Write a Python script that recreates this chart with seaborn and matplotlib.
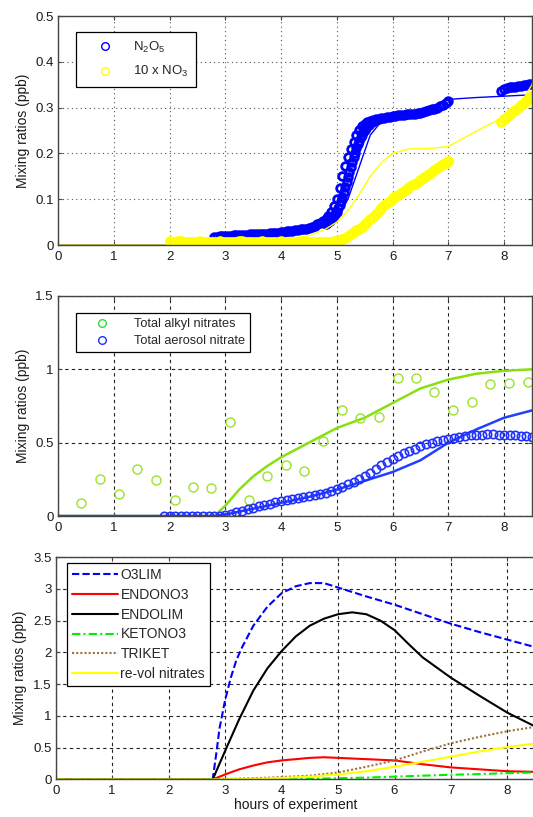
import numpy as np
import matplotlib
matplotlib.use("Agg")
import matplotlib.pyplot as plt
import seaborn as sns
from matplotlib.lines import Line2D
from matplotlib.ticker import FuncFormatter

sns.set_theme(style="white")
plt.rcParams['font.family'] = ['Liberation Sans', 'DejaVu Sans']
plt.rcParams['mathtext.default'] = 'regular'

# ---------------- Panel 1: N2O5 and 10 x NO3 ----------------
n2o5_t = list(np.round(np.arange(2.80, 7.001, 0.05), 2)) + list(np.round(np.arange(7.95, 8.501, 0.05), 2))
n2o5_v = [0.018, 0.018, 0.019, 0.019, 0.020, 0.020, 0.020, 0.021, 0.021, 0.021, 0.022, 0.022, 0.022, 0.023, 0.023,
          0.023, 0.024, 0.024, 0.025, 0.025, 0.026, 0.026, 0.027, 0.027, 0.028, 0.029, 0.030, 0.030, 0.031, 0.032,
          0.033, 0.034, 0.035, 0.036, 0.038,
          0.040, 0.042, 0.045, 0.048, 0.052, 0.057, 0.063, 0.072, 0.085, 0.100,
          0.125, 0.150, 0.172, 0.192, 0.210, 0.225, 0.240, 0.252, 0.260, 0.265,
          0.268, 0.271, 0.273, 0.275, 0.276, 0.277, 0.278, 0.279, 0.280, 0.281,
          0.282, 0.283, 0.284, 0.284, 0.285, 0.285, 0.286, 0.287, 0.288, 0.289,
          0.290, 0.292, 0.294, 0.296, 0.298, 0.300, 0.303, 0.306, 0.310, 0.314,
          0.336, 0.340, 0.342, 0.344, 0.345, 0.346, 0.347, 0.348, 0.349, 0.350, 0.351, 0.352]

# second (lagging) N2O5 trace during the fast rise
n2o5_b_t = list(np.round(np.arange(4.80, 5.701, 0.025), 3))
n2o5_b_v = [0.045, 0.047, 0.050, 0.053, 0.056, 0.060, 0.064, 0.068, 0.073, 0.080,
            0.088, 0.096, 0.105, 0.115, 0.126, 0.137, 0.148, 0.159, 0.170, 0.181,
            0.192, 0.202, 0.211, 0.220, 0.228, 0.235, 0.241, 0.247, 0.252, 0.256,
            0.260, 0.263, 0.266, 0.268, 0.270, 0.271, 0.272]

no3_t = list(np.round(np.arange(2.00, 7.001, 0.05), 2)) + list(np.round(np.arange(7.95, 8.501, 0.05), 2))
no3_v = [0.008, 0.007, 0.007, 0.008, 0.008, 0.007, 0.007, 0.006, 0.006, 0.007,
         0.007, 0.008, 0.007, 0.007, 0.006, 0.006, 0.007, 0.007, 0.008, 0.007,
         0.007, 0.006, 0.006, 0.007, 0.007, 0.008, 0.008, 0.007, 0.007, 0.006,
         0.006, 0.007, 0.007, 0.008, 0.007, 0.007, 0.006, 0.006, 0.007, 0.007,
         0.008, 0.007, 0.007, 0.006, 0.006, 0.007, 0.007, 0.008, 0.007, 0.007,
         0.006, 0.006, 0.007, 0.007, 0.007, 0.006, 0.006, 0.007, 0.007, 0.008, 0.008,
         0.010, 0.013, 0.016, 0.020, 0.024, 0.028, 0.032, 0.036, 0.040, 0.045,
         0.050, 0.056, 0.062, 0.068, 0.075, 0.081, 0.087, 0.092, 0.097, 0.102,
         0.106, 0.110, 0.114, 0.118, 0.122, 0.126, 0.130, 0.134, 0.138, 0.142,
         0.146, 0.150, 0.155, 0.160, 0.164, 0.168, 0.172, 0.176, 0.180, 0.184,
         0.268, 0.275, 0.280, 0.285, 0.290, 0.295, 0.300, 0.305, 0.310, 0.315, 0.320, 0.325]

n2o5_model_t = [0, 2.0, 2.5, 3.0, 3.5, 4.0, 4.5, 4.8, 5.0, 5.2, 5.4, 5.6, 5.8, 6.0, 6.5, 7.0, 7.5, 8.0, 8.5]
n2o5_model_v = [0, 0, 0.008, 0.015, 0.020, 0.025, 0.032, 0.040, 0.060, 0.100, 0.170, 0.240, 0.270, 0.280, 0.290, 0.318, 0.322, 0.325, 0.328]

no3_model_t = [0, 2.0, 3.0, 4.0, 4.5, 4.8, 5.0, 5.2, 5.4, 5.6, 5.8, 6.0, 6.3, 6.6, 7.0, 7.3, 7.6, 8.0, 8.3, 8.5]
no3_model_v = [0, 0, 0.005, 0.010, 0.020, 0.035, 0.050, 0.075, 0.110, 0.150, 0.180, 0.200, 0.210, 0.210, 0.215, 0.235, 0.255, 0.280, 0.310, 0.350]

# ---------------- Panel 2: alkyl & aerosol nitrates ----------------
alkyl_t = [0.42, 0.75, 1.09, 1.42, 1.75, 2.09, 2.42, 2.75, 3.09, 3.42, 3.75, 4.09, 4.42,
           4.75, 5.09, 5.42, 5.75, 6.09, 6.42, 6.75, 7.09, 7.42, 7.75, 8.09, 8.42]
alkyl_v = [0.087, 0.25, 0.148, 0.32, 0.247, 0.11, 0.20, 0.194, 0.64, 0.11, 0.27, 0.35, 0.306,
           0.514, 0.726, 0.67, 0.673, 0.943, 0.943, 0.845, 0.726, 0.78, 0.897, 0.904, 0.913]

aer_t = list(np.round(np.arange(1.9, 8.501, 0.1), 2))
aer_v = [0, 0, 0, 0, 0, 0, 0, 0, 0, 0, 0,
         0.005, 0.015, 0.025, 0.035, 0.045, 0.055, 0.065, 0.075, 0.085, 0.095,
         0.100, 0.110, 0.115, 0.120, 0.130, 0.135, 0.145, 0.150, 0.160, 0.170,
         0.185, 0.200, 0.215, 0.235, 0.255, 0.275, 0.295, 0.320, 0.345, 0.370,
         0.390, 0.410, 0.430, 0.445, 0.460, 0.475, 0.490, 0.500, 0.510, 0.520,
         0.525, 0.535, 0.540, 0.545, 0.550, 0.555, 0.555, 0.560, 0.560, 0.555,
         0.555, 0.550, 0.550, 0.545, 0.545, 0.540]

alkyl_model_t = [0, 2.8, 3.0, 3.25, 3.5, 3.75, 4.0, 4.5, 5.0, 5.5, 6.0, 6.5, 7.0, 7.5, 8.0, 8.5]
alkyl_model_v = [0, 0, 0.07, 0.18, 0.27, 0.34, 0.40, 0.50, 0.60, 0.67, 0.77, 0.87, 0.93, 0.97, 0.99, 1.00]

aer_model_t = [0, 2.8, 3.0, 3.5, 4.0, 4.5, 5.0, 5.5, 6.0, 6.5, 7.0, 7.5, 8.0, 8.5]
aer_model_v = [0, 0, 0.01, 0.05, 0.09, 0.13, 0.18, 0.24, 0.30, 0.38, 0.50, 0.59, 0.67, 0.72]

# ---------------- Panel 3: model species ----------------
o3lim_t = [0, 2.78, 2.85, 2.9, 3.0, 3.1, 3.2, 3.3, 3.5, 3.75, 4.0, 4.25, 4.5, 4.75, 5.0, 5.5, 6.0, 6.5, 7.0, 7.5, 8.0, 8.5]
o3lim_v = [0, 0, 0.45, 0.8, 1.25, 1.6, 1.88, 2.08, 2.42, 2.72, 2.93, 3.04, 3.09, 3.09, 3.02, 2.88, 2.75, 2.6, 2.45, 2.32, 2.2, 2.08]

endono3_t = [0, 2.78, 3.0, 3.25, 3.5, 3.75, 4.0, 4.5, 4.75, 5.0, 5.5, 6.0, 6.5, 7.0, 7.5, 8.0, 8.5]
endono3_v = [0, 0, 0.08, 0.16, 0.22, 0.27, 0.30, 0.34, 0.35, 0.34, 0.32, 0.30, 0.24, 0.19, 0.16, 0.13, 0.12]

endolim_t = [0, 2.78, 3.0, 3.25, 3.5, 3.75, 4.0, 4.25, 4.5, 4.75, 5.0, 5.25, 5.5, 5.75, 6.0, 6.25, 6.5, 6.75, 7.0, 7.5, 8.0, 8.5]
endolim_v = [0, 0, 0.45, 0.95, 1.40, 1.75, 2.02, 2.25, 2.42, 2.53, 2.60, 2.63, 2.60, 2.50, 2.35, 2.13, 1.92, 1.76, 1.60, 1.32, 1.05, 0.83]

ketono3_t = [0, 3.8, 4.5, 5.0, 5.5, 6.0, 6.5, 7.0, 7.5, 8.0, 8.5]
ketono3_v = [0, 0, 0.01, 0.02, 0.03, 0.045, 0.06, 0.075, 0.085, 0.10, 0.11]

triket_t = [0, 2.78, 3.8, 4.5, 5.0, 5.5, 6.0, 6.5, 7.0, 7.5, 8.0, 8.5]
triket_v = [0, 0, 0.03, 0.06, 0.11, 0.20, 0.30, 0.44, 0.57, 0.67, 0.76, 0.83]

revol_t = [0, 2.78, 3.5, 4.0, 4.5, 5.0, 5.5, 6.0, 6.5, 7.0, 7.5, 8.0, 8.5]
revol_v = [0, 0, 0.01, 0.025, 0.045, 0.08, 0.13, 0.20, 0.28, 0.36, 0.44, 0.51, 0.57]

x_ticks = [0, 1, 2, 3, 4, 5, 6, 7, 8]

# ---------------- Figure ----------------
fig = plt.figure(figsize=(5.33, 8.17), dpi=100)
ax1 = fig.add_axes([0.1088, 0.7001, 0.8893, 0.2803])
ax2 = fig.add_axes([0.1088, 0.3684, 0.8893, 0.2693])
ax3 = fig.add_axes([0.1045, 0.0459, 0.9006, 0.2723])

fmt = FuncFormatter(lambda v, p: f"{v:g}")
SPINE = "#444444"
TXT = "#1a1a1a"


def style_axes(ax, ylim, yticks, grid_ls, grid_color):
    ax.set_xlim(0, 8.5)
    ax.set_ylim(*ylim)
    ax.set_xticks(x_ticks)
    ax.set_yticks(yticks)
    ax.yaxis.set_major_formatter(fmt)
    ax.xaxis.set_major_formatter(fmt)
    ax.grid(True, linestyle=grid_ls, color=grid_color, linewidth=0.8)
    ax.set_axisbelow(True)
    for s in ax.spines.values():
        s.set_color(SPINE)
        s.set_linewidth(1.0)
        s.set_visible(True)
    ax.tick_params(direction="in", length=3, width=0.8, colors=SPINE, labelcolor=TXT,
                   labelsize=9.5, top=True, right=True, bottom=True, left=True, pad=3)
    ax.tick_params(axis="x", pad=4)
    ax.set_ylabel("Mixing ratios (ppb)", fontsize=10, color=TXT, labelpad=4)
    ax.set_xlabel("")


def markers(ax, t, v, color, size, mew):
    sns.lineplot(x=t, y=v, ax=ax, estimator=None, sort=False, linestyle="none", marker="o",
                 markersize=size, markerfacecolor="none", markeredgecolor=color, markeredgewidth=mew,
                 color=color, legend=False)


def line(ax, t, v, color, lw, ls="-"):
    sns.lineplot(x=t, y=v, ax=ax, estimator=None, sort=False, color=color, linewidth=lw,
                 linestyle=ls, legend=False)


# Panel 1
line(ax1, n2o5_model_t, n2o5_model_v, "#0000ff", 1.0)
markers(ax1, n2o5_t, n2o5_v, "#0000ff", 5.5, 2.0)
markers(ax1, n2o5_b_t, n2o5_b_v, "#0000ff", 5.5, 2.0)
line(ax1, no3_model_t, no3_model_v, "#ffff00", 1.0)
markers(ax1, no3_t, no3_v, "#ffff00", 5.5, 2.2)
style_axes(ax1, (0, 0.5), [0, 0.1, 0.2, 0.3, 0.4, 0.5], (0, (1, 3)), "#555555")
h1 = [Line2D([], [], linestyle="none", marker="o", markersize=5.5, markerfacecolor="none",
             markeredgecolor="#0000ff", markeredgewidth=1.0),
      Line2D([], [], linestyle="none", marker="o", markersize=5.5, markerfacecolor="none",
             markeredgecolor="#ffff00", markeredgewidth=1.0)]
leg1 = ax1.legend(h1, [r"N$_2$O$_5$", r"10 x NO$_3$"], loc="upper left", bbox_to_anchor=(0.038, 0.93),
                  borderaxespad=0, fancybox=False, framealpha=1, edgecolor="black", fontsize=9.5,
                  handletextpad=0.5, borderpad=0.6, labelspacing=0.7, handlelength=3.2)
leg1.get_frame().set_linewidth(0.9)

# Panel 2
line(ax2, alkyl_model_t, alkyl_model_v, "#88e010", 1.8)
markers(ax2, alkyl_t, alkyl_v, "#9be22d", 6.5, 1.0)
line(ax2, aer_model_t, aer_model_v, "#2040ff", 1.8)
markers(ax2, aer_t, aer_v, "#2030ff", 6.0, 1.2)
style_axes(ax2, (0, 1.5), [0, 0.5, 1, 1.5], (0, (3, 3)), "#222222")
h2 = [Line2D([], [], linestyle="none", marker="o", markersize=5.5, markerfacecolor="none",
             markeredgecolor="#33dd33", markeredgewidth=1.0),
      Line2D([], [], linestyle="none", marker="o", markersize=5.5, markerfacecolor="none",
             markeredgecolor="#2030ff", markeredgewidth=1.0)]
leg2 = ax2.legend(h2, ["Total alkyl nitrates", "Total aerosol nitrate"], loc="upper left",
                  bbox_to_anchor=(0.038, 0.923), borderaxespad=0, fancybox=False, framealpha=1,
                  edgecolor="black", fontsize=9.2, handletextpad=0.8, borderpad=0.4,
                  labelspacing=0.4, handlelength=3.3)
leg2.get_frame().set_linewidth(0.9)

# Panel 3
series3 = [
    ("O3LIM", o3lim_t, o3lim_v, "#0000ff", (0, (3.5, 1.5))),
    ("ENDONO3", endono3_t, endono3_v, "#ff0000", "-"),
    ("ENDOLIM", endolim_t, endolim_v, "#000000", "-"),
    ("KETONO3", ketono3_t, ketono3_v, "#00ee00", (0, (4, 1.5, 1, 1.5))),
    ("TRIKET", triket_t, triket_v, "#a0703c", (0, (1, 1))),
    ("re-vol nitrates", revol_t, revol_v, "#ffff00", "-"),
]
handles3 = []
for name, t, v, c, ls in series3:
    line(ax3, t, v, c, 1.5, ls)
    handles3.append(Line2D([], [], color=c, linestyle=ls, linewidth=1.5))
style_axes(ax3, (0, 3.5), [0, 0.5, 1, 1.5, 2, 2.5, 3, 3.5], (0, (3, 3)), "#222222")
ax3.set_xlabel("hours of experiment", fontsize=10, color=TXT, labelpad=1)
leg3 = ax3.legend(handles3, [s[0] for s in series3], loc="upper left", bbox_to_anchor=(0.0235, 0.973),
                  borderaxespad=0, fancybox=False, framealpha=1, edgecolor="black", fontsize=10,
                  handletextpad=0.2, borderpad=0.35, labelspacing=0.42, handlelength=3.3)
leg3.get_frame().set_linewidth(0.9)

fig.savefig("out.png", dpi=100)
